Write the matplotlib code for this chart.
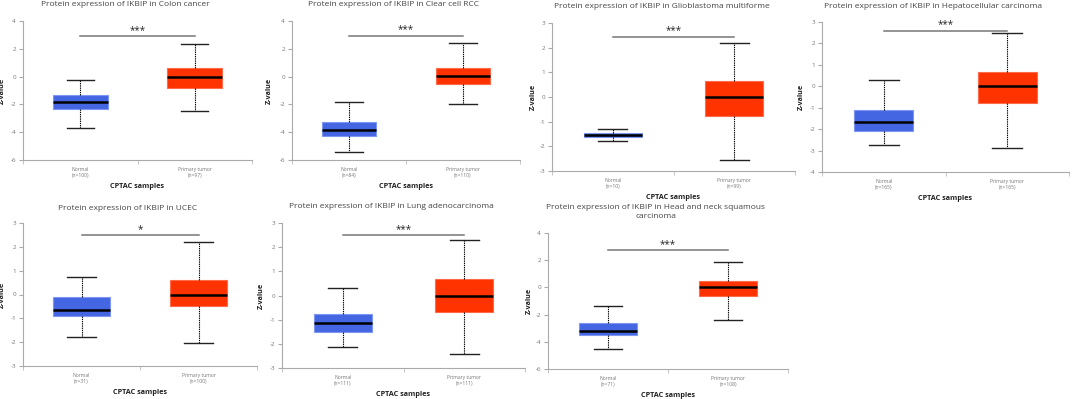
import matplotlib
matplotlib.use("Agg")
import matplotlib.pyplot as plt

plt.rcParams["font.family"] = ["Open Sans", "DejaVu Sans"]
plt.rcParams["axes.unicode_minus"] = False

# panel data (UALCAN / CPTAC boxplots)
titles = [
    "Protein expression of IKBIP in Colon cancer",
    "Protein expression of IKBIP in Clear cell RCC",
    "Protein expression of IKBIP in Glioblastoma multiforme",
    "Protein expression of IKBIP in Hepatocellular carcinoma",
    "Protein expression of IKBIP in UCEC",
    "Protein expression of IKBIP in Lung adenocarcinoma",
    "Protein expression of IKBIP in Head and neck squamous\ncarcinoma",
]
groups = ["Normal", "Primary tumor"]
normal_n = [100, 84, 10, 165, 31, 111, 71]
tumor_n = [97, 110, 99, 165, 100, 111, 108]
# (whisker low, q1, median, q3, whisker high)
normal_stats = [
    (-3.7, -2.35, -1.8, -1.35, -0.25),
    (-5.4, -4.25, -3.85, -3.25, -1.85),
    (-1.8, -1.62, -1.55, -1.45, -1.3),
    (-2.75, -2.1, -1.65, -1.1, 0.27),
    (-1.78, -0.9, -0.63, -0.1, 0.73),
    (-2.12, -1.5, -1.15, -0.75, 0.33),
    (-4.5, -3.5, -3.2, -2.6, -1.35),
]
tumor_stats = [
    (-2.5, -0.85, 0.0, 0.6, 2.35),
    (-1.95, -0.55, 0.02, 0.65, 2.45),
    (-2.57, -0.78, 0.0, 0.63, 2.2),
    (-2.88, -0.78, 0.0, 0.67, 2.5),
    (-2.05, -0.48, -0.03, 0.6, 2.2),
    (-2.4, -0.68, -0.02, 0.68, 2.3),
    (-2.4, -0.65, 0.0, 0.5, 1.9),
]
sig_y = [2.9, 2.95, 2.45, 2.6, 2.5, 2.5, 2.75]
sig_label = ["***", "***", "***", "***", "*", "***", "***"]

# layout: axes box in pixels (left, right, top, bottom), y-label x, title y, y range
W, H = 1072, 399
boxes_px = [
    (23, 252, 21, 160), (292, 520, 21, 160), (552, 795, 23, 171), (822, 1069, 22, 172),
    (23, 257, 223, 366), (282, 525, 223, 368), (548, 788, 233, 369),
]
ylabel_x = [6, 273, 537, 805, 6, 265, 533]
title_y = [5, 5, 6, 6, 208, 207, 212]
ylims = [(-6, 4), (-6, 4), (-3, 3), (-4, 3), (-3, 3), (-3, 3), (-6, 4)]
yticks_step = [2, 2, 1, 1, 1, 1, 2]

BLUE, BLUE_EDGE = "#4466e2", "#7d97f2"
RED, RED_EDGE = "#ff3300", "#ff6a4a"

fig = plt.figure(figsize=(W / 100, H / 100), dpi=100)

for i in range(len(titles)):
    l, r, t, b = boxes_px[i]
    ax = fig.add_axes([l / W, 1 - b / H, (r - l) / W, (b - t) / H])
    stats = []
    for s, lab, n in ((normal_stats[i], groups[0], normal_n[i]), (tumor_stats[i], groups[1], tumor_n[i])):
        stats.append(dict(whislo=s[0], q1=s[1], med=s[2], q3=s[3], whishi=s[4],
                          label="%s\n(n=%d)" % (lab, n), fliers=[]))
    res = ax.bxp(stats, positions=[0, 1], widths=0.48, patch_artist=True, showfliers=False,
                 medianprops=dict(color="black", lw=1.8),
                 whiskerprops=dict(color="black", lw=0.8, linestyle=(0, (1.2, 0.8))),
                 capprops=dict(color="#222", lw=1.0), capwidths=0.24)
    for patch, fc, ec in zip(res["boxes"], (BLUE, RED), (BLUE_EDGE, RED_EDGE)):
        patch.set_facecolor(fc)
        patch.set_edgecolor(ec)
        patch.set_linewidth(0.8)

    ax.plot([0, 1], [sig_y[i], sig_y[i]], color="#777", lw=1.1)
    ax.text(0.5, sig_y[i], sig_label[i], ha="center", va="bottom", fontsize=7, color="#222")

    lo, hi = ylims[i]
    ax.set_xlim(-0.5, 1.5)
    ax.set_ylim(lo, hi)
    ax.set_yticks(range(lo, hi + 1, yticks_step[i]))
    ax.set_xticks([-0.5, 0.5, 1.5], minor=True)
    ax.tick_params(axis="x", which="major", length=0, labelsize=3.6, labelcolor="#777", pad=5)
    ax.tick_params(axis="x", which="minor", length=3, color="#bbb")
    ax.tick_params(axis="y", length=3, color="#aaa", labelsize=4.5, labelcolor="#777", pad=2)
    for sp in ("top", "right"):
        ax.spines[sp].set_visible(False)
    for sp in ("left", "bottom"):
        ax.spines[sp].set_color("#aaa")
        ax.spines[sp].set_linewidth(0.8)

    ax.set_xlabel("CPTAC samples", fontsize=5.2, fontweight="bold", color="#222", labelpad=4)
    ax.set_ylabel("Z-value", fontsize=5.2, fontweight="bold", color="#222")
    ax.yaxis.set_label_coords((ylabel_x[i] - l) / (r - l), 0.5)
    fig.text(((l + r) / 2 - 12) / W, 1 - title_y[i] / H, titles[i], ha="center",
             va="center", fontsize=6.0, color="#444", linespacing=1.25)

fig.savefig("out.png", dpi=100)
